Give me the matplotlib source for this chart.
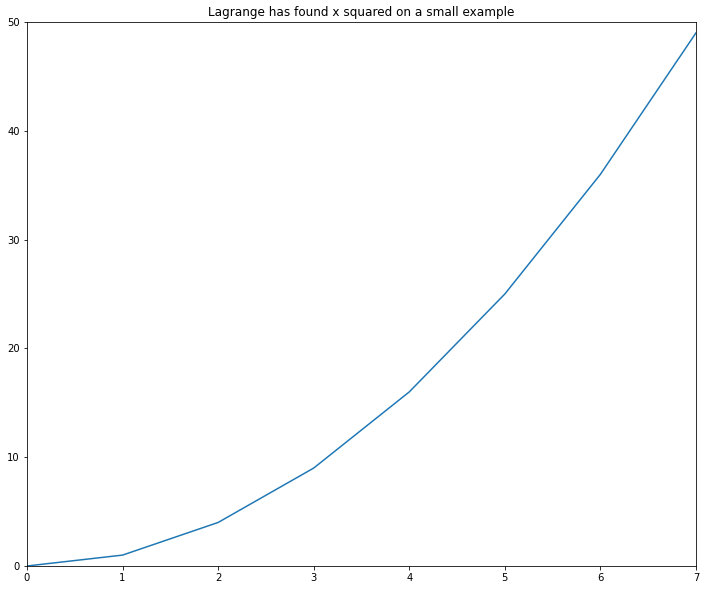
import matplotlib
matplotlib.use("Agg")
import matplotlib.pyplot as plt

# Values
x_values = [0, 1, 2, 3, 4, 5, 6, 7]
y_values = [0, 1, 4, 9, 16, 25, 36, 49]

fig = plt.figure(figsize=(706 / 72, 590 / 72), dpi=72)
ax = fig.add_axes([0.0382, 0.0407, 0.9476, 0.922])

ax.plot(x_values, y_values, color="#1f77b4")

ax.set_xlim(0, 7)
ax.set_ylim(0, 50)
ax.set_title("Lagrange has found x squared on a small example")

fig.savefig("out.png", dpi=72)
